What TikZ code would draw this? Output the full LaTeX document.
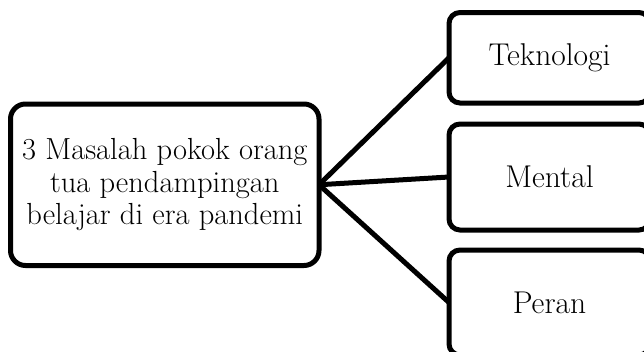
\documentclass[tikz,border=0pt]{standalone}
\usepackage{fontspec}
\begin{document}
\begin{tikzpicture}[x=1pt,y=-1pt,
  box/.style={draw=black, line width=5pt, fill=white, inner sep=0pt, outer sep=0pt, align=center},
  bigtext/.style={font=\fontsize{30.5}{32.5}\selectfont},
  smalltext/.style={font=\fontsize{31.5}{33}\selectfont},
  link/.style={draw=black, line width=5pt}]
\useasboundingbox (0,0) rectangle (644,351);
\clip (0,0) rectangle (644,351);
\node[box, bigtext, rounded corners=15pt, minimum width=308.5pt, minimum height=161.5pt] (main) at (164.75,184.75)
  {3 Masalah pokok orang\\tua pendampingan\\belajar di era pandemi};
\node[box, smalltext, rounded corners=11pt, minimum width=201pt, minimum height=90.5pt] (tek) at (549.5,57.75) {Teknologi};
\node[box, smalltext, rounded corners=11pt, minimum width=201pt, minimum height=106pt] (men) at (549.5,177) {Mental};
\node[box, smalltext, rounded corners=11pt, minimum width=201pt, minimum height=105pt] (per) at (549.5,302.5) {Peran};
\draw[link] (main.east) -- (tek.west);
\draw[link] (main.east) -- (men.west);
\draw[link] (main.east) -- (per.west);
\end{tikzpicture}
\end{document}
